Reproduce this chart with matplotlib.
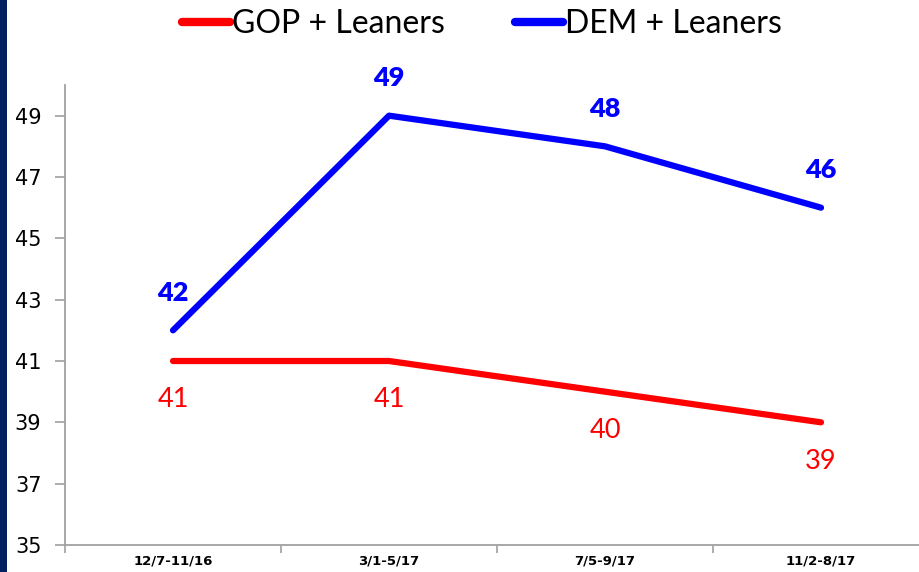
import matplotlib
matplotlib.use("Agg")
import matplotlib.pyplot as plt
from matplotlib.patches import Rectangle
import numpy as np

# data
periods = ["12/7-11/16", "3/1-5/17", "7/5-9/17", "11/2-8/17"]
gop = [41, 41, 40, 39]
dem = [42, 49, 48, 46]
yticks = [35, 37, 39, 41, 43, 45, 47, 49]

red = "#ff0000"
blue = "#0000ff"
axis_gray = "#a0a0a0"

fig = plt.figure(figsize=(9.2, 5.72), dpi=100)
# dark strip on the left edge
fig.patches.append(Rectangle((0, 0), 7 / 920, 1, transform=fig.transFigure,
                             facecolor="#002060", edgecolor="none", zorder=0))

# axes: left at x=65px, bottom at y=545px, top ~85px, right past the edge
ax = fig.add_axes([65 / 920, (572 - 545) / 572, 864 / 920, 460 / 572])
x = np.arange(len(periods))

l1, = ax.plot(x, gop, color=red, lw=4.5, solid_capstyle="round", label="GOP + Leaners")
l2, = ax.plot(x, dem, color=blue, lw=4.5, solid_capstyle="round", label="DEM + Leaners")

for xi, v in zip(x, gop):
    ax.annotate(str(v), (xi, v), xytext=(0, -28), textcoords="offset points",
                ha="center", va="center", color=red, fontsize=19.5, family="Lato")
for xi, v in zip(x, dem):
    ax.annotate(str(v), (xi, v), xytext=(0, 27), textcoords="offset points",
                ha="center", va="center", color=blue, fontsize=19.5, fontweight="heavy",
                family="Lato")

ax.set_xlim(-0.5, 3.5)
ax.set_ylim(35, 50)
ax.set_yticks(yticks)
ax.set_yticklabels([str(t) for t in yticks], family="Liberation Sans Narrow", fontsize=15)
ax.set_xticks(x)
ax.set_xticklabels(periods, family="Liberation Sans Narrow", fontsize=9.5, fontweight="bold")
ax.set_xticks(np.arange(-0.5, 3.6, 1), minor=True)
ax.tick_params(axis="x", which="major", length=0, pad=7)
ax.tick_params(axis="x", which="minor", length=6, color=axis_gray, width=1.2, direction="out")
ax.tick_params(axis="y", length=7, color=axis_gray, width=1.2, pad=10)

for s in ["top", "right"]:
    ax.spines[s].set_visible(False)
for s in ["left", "bottom"]:
    ax.spines[s].set_color(axis_gray)
    ax.spines[s].set_linewidth(1.3)

leg = fig.legend(handles=[l1, l2], loc="center", bbox_to_anchor=(482 / 920, 1 - 24 / 572),
                 ncol=2, frameon=False, prop={"family": "Lato", "size": 23},
                 handlelength=1.5, handletextpad=0.05, columnspacing=2.2)
for h in leg.get_lines():
    h.set_linewidth(6)

fig.savefig("out.png", dpi=100)
